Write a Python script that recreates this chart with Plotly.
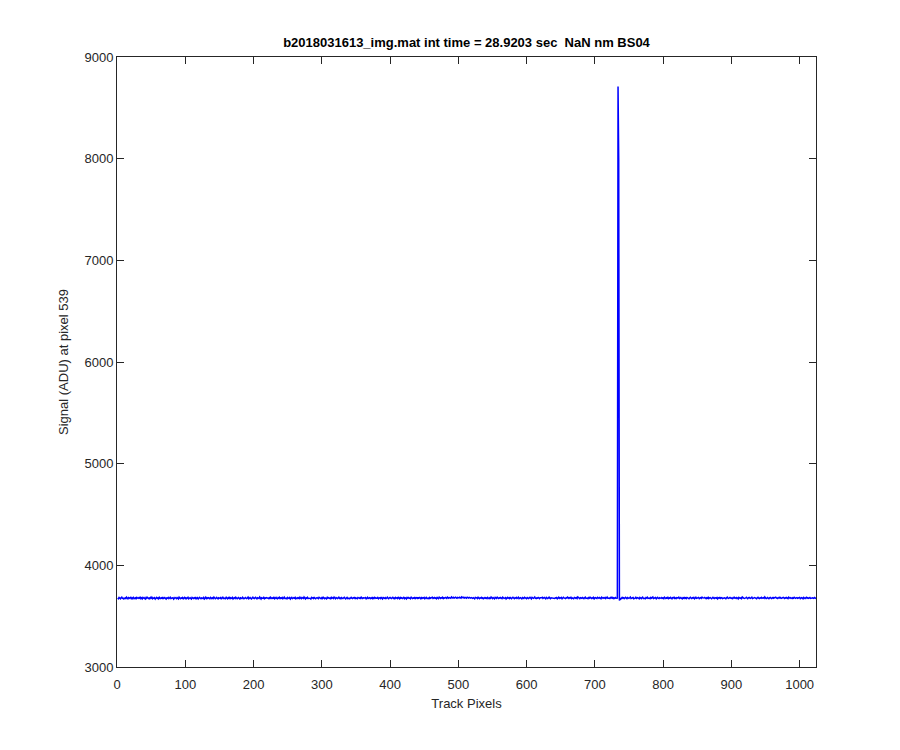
import plotly.graph_objects as go

title_text = "b2018031613_img.mat int time = 28.9203 sec  NaN nm BS04"
x_label = "Track Pixels"
y_label = "Signal (ADU) at pixel 539"
x_ticks = [0, 100, 200, 300, 400, 500, 600, 700, 800, 900, 1000]
y_ticks = [3000, 4000, 5000, 6000, 7000, 8000, 9000]

# baseline before the spike (pixels 1..733)
signal_left = [
    3679,3672,3684,3676,3670,3681,3687,3675,3678,3669,3682,3680,3673,3686,3677,3671,3683,3678,3674,3689,
    3676,3670,3680,3685,3672,3677,3681,3668,3684,3679,3675,3682,3677,3690,3673,3680,3671,3685,3678,3674,
    3682,3669,3676,3687,3680,3673,3678,3671,3683,3677,3686,3672,3679,3675,3681,3668,3677,3684,3674,3680,
    3671,3685,3678,3673,3681,3676,3688,3670,3679,3683,3675,3669,3680,3677,3684,3672,3678,3686,3674,3679,
    3677,3681,3667,3676,3684,3679,3673,3682,3675,3670,3687,3678,3672,3680,3676,3683,3671,3679,3685,3674,
    3680,3673,3678,3686,3671,3677,3682,3675,3669,3684,3679,3674,3681,3676,3688,3672,3678,3683,3670,3677,
    3685,3676,3671,3680,3678,3674,3683,3669,3677,3686,3673,3680,3675,3682,3678,3671,3684,3677,3673,3681,
    3674,3688,3679,3672,3677,3684,3676,3670,3681,3678,3675,3683,3668,3679,3686,3674,3680,3677,3672,3685,
    3678,3671,3682,3676,3689,3673,3679,3675,3684,3670,3677,3681,3674,3686,3679,3672,3678,3683,3676,3669,
    3681,3677,3673,3685,3679,3671,3676,3684,3678,3674,3680,3687,3672,3677,3683,3675,3670,3679,3686,3676,
    3673,3680,3686,3677,3671,3682,3678,3674,3688,3676,3669,3681,3679,3675,3684,3672,3680,3676,3683,3678,
    3679,3674,3681,3670,3685,3677,3673,3680,3676,3689,3672,3678,3684,3675,3671,3682,3677,3686,3674,3680,
    3676,3683,3672,3679,3687,3674,3680,3677,3671,3684,3678,3675,3682,3669,3679,3685,3673,3678,3681,3676,
    3684,3671,3678,3682,3675,3680,3673,3686,3677,3672,3683,3679,3674,3688,3676,3670,3681,3677,3685,3673,
    3677,3680,3675,3669,3684,3678,3682,3674,3687,3676,3671,3679,3683,3677,3673,3686,3680,3675,3672,3682,
    3674,3686,3679,3673,3680,3676,3671,3685,3678,3682,3675,3679,3668,3684,3677,3681,3674,3688,3676,3671,
    3682,3677,3673,3680,3687,3675,3679,3672,3683,3678,3674,3681,3686,3676,3670,3679,3684,3673,3680,3677,
    3671,3679,3685,3676,3673,3682,3678,3688,3674,3680,3677,3672,3684,3679,3675,3681,3669,3686,3678,3674,
    3680,3675,3678,3683,3671,3677,3686,3674,3679,3682,3673,3680,3676,3687,3672,3678,3684,3675,3681,3677,
    3676,3684,3672,3679,3681,3674,3688,3677,3670,3683,3678,3675,3682,3673,3679,3686,3676,3671,3680,3684,
    3678,3673,3681,3686,3675,3679,3672,3684,3677,3680,3674,3689,3678,3671,3683,3676,3681,3674,3679,3685,
    3673,3681,3677,3670,3684,3678,3683,3675,3679,3672,3686,3677,3674,3680,3676,3688,3673,3679,3682,3675,
    3681,3676,3684,3679,3672,3687,3675,3680,3677,3683,3671,3678,3685,3674,3680,3677,3672,3683,3676,3681,
    3677,3686,3674,3680,3683,3676,3679,3671,3684,3678,3673,3687,3680,3675,3682,3678,3686,3674,3680,3677,
    3684,3679,3675,3688,3681,3677,3683,3680,3676,3689,3682,3678,3685,3679,3683,3687,3680,3676,3684,3681,
    3679,3686,3682,3677,3690,3683,3680,3685,3678,3684,3681,3676,3687,3682,3679,3685,3680,3677,3683,3678,
    3675,3682,3678,3671,3684,3677,3680,3674,3686,3679,3673,3681,3677,3684,3675,3680,3672,3678,3683,3676,
    3680,3674,3685,3678,3672,3681,3676,3688,3679,3673,3682,3677,3671,3684,3679,3675,3686,3678,3674,3681,
    3676,3683,3679,3673,3687,3680,3675,3678,3682,3670,3679,3684,3676,3681,3674,3688,3677,3672,3680,3685,
    3678,3672,3681,3677,3684,3675,3680,3686,3673,3679,3682,3676,3670,3683,3678,3674,3685,3680,3677,3672,
    3683,3677,3674,3680,3686,3679,3671,3684,3678,3675,3681,3688,3676,3673,3680,3677,3684,3679,3672,3682,
    3677,3681,3686,3674,3679,3683,3676,3670,3685,3678,3674,3680,3687,3677,3672,3681,3679,3684,3675,3680,
    3674,3680,3677,3683,3672,3679,3686,3675,3681,3677,3684,3671,3678,3685,3680,3676,3673,3682,3679,3687,
    3680,3675,3682,3678,3686,3673,3680,3677,3671,3684,3679,3676,3683,3674,3689,3680,3677,3672,3681,3678,
    3676,3684,3679,3673,3681,3687,3675,3680,3678,3672,3683,3677,3686,3679,3674,3681,3676,3684,3671,3679,
    3682,3677,3674,3685,3680,3676,3683,3678,3671,3686,3679,3675,3681,3677,3684,3673,3680,3688,3676,3681,
    3678,3674,3683,3679,3686,3676,3681,3673,3680,3684,3677,3682,3678,
]

# the spike (pixels 734..736)
signal_spike = [8710, 7990, 3655]

# baseline after the spike (pixels 737..1024)
signal_right = [
    3676,3668,3679,3684,3676,3681,3673,3679,3686,3677,3672,3683,3678,3675,3681,3688,3674,3679,3676,3683,3671,
    3680,3677,3685,3674,3679,3682,3676,3670,3684,3678,3673,3681,3687,3675,3680,3677,3672,3683,3679,3686,
    3675,3681,3678,3673,3684,3677,3680,3688,3674,3679,3676,3683,3671,3680,3685,3677,3674,3682,3678,3675,
    3683,3676,3680,3672,3687,3679,3674,3681,3677,3685,3673,3680,3676,3684,3678,3671,3682,3679,3686,3675,
    3679,3673,3682,3677,3680,3686,3674,3678,3683,3676,3670,3681,3677,3688,3675,3680,3673,3684,3679,3676,
    3672,3680,3685,3678,3674,3681,3677,3683,3671,3679,3686,3675,3680,3677,3684,3673,3678,3682,3676,3687,
    3680,3675,3678,3684,3679,3672,3681,3677,3686,3674,3680,3683,3676,3671,3679,3685,3678,3674,3682,3677,
    3676,3683,3671,3680,3677,3688,3675,3679,3682,3673,3678,3684,3680,3676,3672,3681,3687,3677,3674,3680,
    3684,3678,3675,3681,3673,3679,3686,3677,3680,3674,3683,3679,3671,3685,3678,3676,3681,3673,3688,3679,
    3677,3674,3682,3679,3685,3676,3672,3680,3684,3678,3675,3681,3687,3673,3679,3677,3683,3680,3675,3671,
    3681,3686,3677,3673,3680,3678,3684,3675,3679,3682,3676,3689,3680,3674,3678,3683,3677,3672,3681,3685,
    3678,3673,3680,3684,3676,3679,3682,3687,3677,3680,3674,3681,3686,3678,3683,3675,3680,3677,3684,3679,
    3674,3681,3677,3683,3679,3672,3686,3680,3676,3682,3678,3673,3681,3677,3685,3679,3675,3680,3683,3676,
    3680,3676,3684,3673,3679,3682,3677,3671,3685,3678,3674,3680,3686,3677,3681,3675,3679,3683,3674,3678,
    3677,3681,3675,3680,3683,3676,3679,
]

signal = signal_left + signal_spike + signal_right
track_pixels = list(range(1, len(signal) + 1))

axis_color = "#262626"
font_family = "Liberation Sans, Arial, Helvetica, sans-serif"

# the page body adds an 8px offset; margins compensate for it
fig = go.Figure()
fig.add_trace(go.Scatter(
    x=track_pixels, y=signal, mode="lines",
    line=dict(color="#0000ff", width=1.5),
    showlegend=False, hoverinfo="skip",
))

fig.update_layout(
    width=900, height=750,
    paper_bgcolor="white", plot_bgcolor="white",
    margin=dict(l=109, r=92, t=49, b=91),
    font=dict(family=font_family, size=13, color=axis_color),
    title=dict(
        text="<b>" + title_text + "</b>",
        x=((117 + 816) / 2 - 8) / 900, xanchor="center",
        y=1 - 34 / 750, yanchor="middle",
        font=dict(family=font_family, size=13, color="black"),
    ),
)

common = dict(
    showline=True, linecolor=axis_color, linewidth=1,
    mirror="ticks", ticks="inside", ticklen=7, tickwidth=1, tickcolor=axis_color,
    showgrid=False, zeroline=False,
    tickfont=dict(family=font_family, size=13, color=axis_color),
)

fig.update_xaxes(
    range=[0, 1024], tickvals=x_ticks, ticktext=[str(v) for v in x_ticks],
    ticklabelstandoff=5,
    title=dict(text=x_label, font=dict(family=font_family, size=13, color=axis_color), standoff=8),
    **common,
)
fig.update_yaxes(
    range=[3000, 9000], tickvals=y_ticks, ticktext=[str(v) for v in y_ticks],
    title=dict(text=y_label, font=dict(family=font_family, size=13, color=axis_color), standoff=12),
    **common,
)

fig.write_html("out.html")
